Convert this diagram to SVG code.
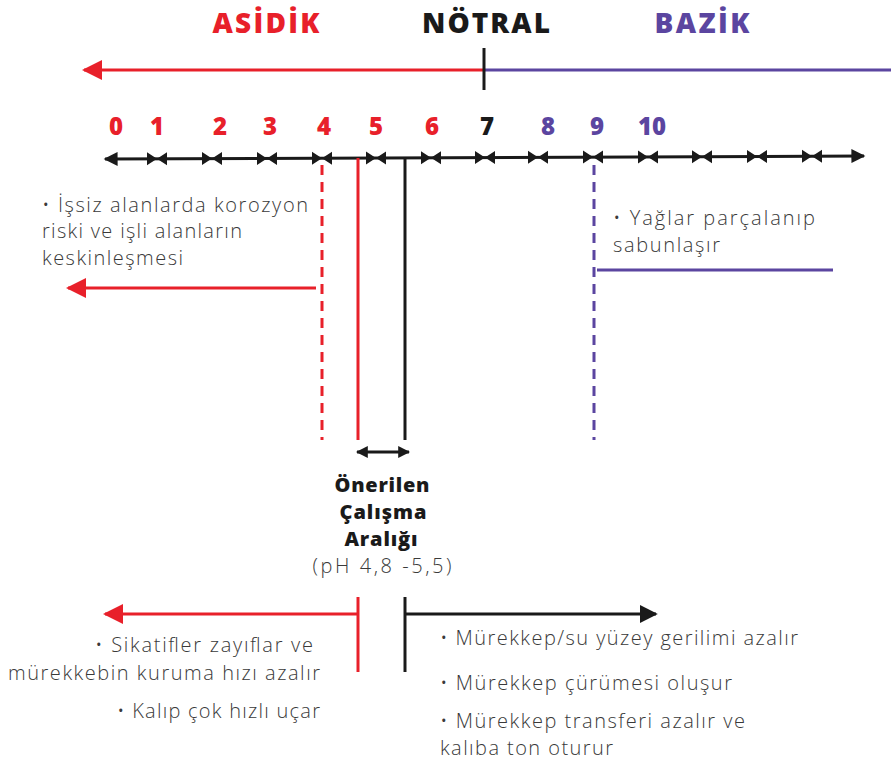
<svg xmlns="http://www.w3.org/2000/svg" width="891" height="764" viewBox="0 0 891 764">
<style>
.h{font-family:"Open Sans","Liberation Sans",sans-serif;font-weight:800;font-size:28px;text-anchor:middle}
.n{font-family:"Open Sans","Liberation Sans",sans-serif;font-weight:800;font-size:24px;text-anchor:middle}
.t{font-family:"Open Sans","Liberation Sans",sans-serif;font-weight:300;font-size:20px;fill:#3a3a3a}
.b{font-family:"Open Sans","Liberation Sans",sans-serif;font-weight:800;font-size:20px;fill:#1a1a1a;text-anchor:middle}
.red{fill:#e8202a}.pur{fill:#5b45a0}.blk{fill:#1a1a1a}
.lr{stroke:#e8202a;stroke-width:3;fill:none}
.lp{stroke:#5b45a0;stroke-width:3;fill:none}
.lk{stroke:#1a1a1a;stroke-width:3;fill:none}
.dr{stroke:#e8202a;stroke-width:3;stroke-dasharray:10 7;fill:none}
.dp{stroke:#5b45a0;stroke-width:3;stroke-dasharray:10 7;fill:none}
</style>
<defs>
<marker id="arL" viewBox="0 0 10 10" refX="9" refY="5" markerWidth="20" markerHeight="20" orient="auto-start-reverse" markerUnits="userSpaceOnUse"><path d="M0,0L10,5L0,10z" fill="#e8202a"/></marker>
<marker id="akL" viewBox="0 0 10 10" refX="9" refY="5" markerWidth="18" markerHeight="18" orient="auto-start-reverse" markerUnits="userSpaceOnUse"><path d="M0,0L10,5L0,10z" fill="#1a1a1a"/></marker>
<marker id="akM" viewBox="0 0 10 10" refX="9" refY="5" markerWidth="15" markerHeight="14" orient="auto-start-reverse" markerUnits="userSpaceOnUse"><path d="M0,0L10,5L0,10z" fill="#1a1a1a"/></marker>
<marker id="akS" viewBox="0 0 10 10" refX="9" refY="5" markerWidth="12" markerHeight="12" orient="auto-start-reverse" markerUnits="userSpaceOnUse"><path d="M0,0L10,5L0,10z" fill="#1a1a1a"/></marker>
<path id="bow" d="M-10,-6.5L0,0L-10,6.5zM10,-6.5L0,0L10,6.5z" fill="#1a1a1a"/>
</defs>

<g id="headers">
<text class="h red" x="266" y="33" textLength="107" lengthAdjust="spacing">ASİDİK</text>
<text class="h blk" x="486" y="33" textLength="128" lengthAdjust="spacing">NÖTRAL</text>
<text class="h pur" x="702" y="33" textLength="95" lengthAdjust="spacing">BAZİK</text>
</g>

<g id="scale-labels">
<text class="n red" x="116" y="135">0</text>
<text class="n red" x="157" y="135">1</text>
<text class="n red" x="220" y="135">2</text>
<text class="n red" x="270" y="135">3</text>
<text class="n red" x="324" y="135">4</text>
<text class="n red" x="376" y="135">5</text>
<text class="n red" x="432" y="135">6</text>
<text class="n blk" x="487" y="135">7</text>
<text class="n pur" x="548" y="135">8</text>
<text class="n pur" x="597" y="135">9</text>
<text class="n pur" x="652" y="135">10</text>
</g>

<g id="connectors">
<line class="lr" x1="484" y1="70" x2="84" y2="70" marker-end="url(#arL)"/>
<line class="lp" x1="484" y1="70" x2="891" y2="70"/>
<line class="lk" x1="484" y1="48" x2="484" y2="90"/>
<line class="lk" x1="105" y1="159" x2="864" y2="156" marker-start="url(#akM)" marker-end="url(#akM)"/>
<use href="#bow" x="157" y="158.8"/>
<use href="#bow" x="212" y="158.6"/>
<use href="#bow" x="267" y="158.4"/>
<use href="#bow" x="322" y="158.2"/>
<use href="#bow" x="376" y="158"/>
<use href="#bow" x="431" y="157.8"/>
<use href="#bow" x="485" y="157.5"/>
<use href="#bow" x="538" y="157.3"/>
<use href="#bow" x="593" y="157.1"/>
<use href="#bow" x="648" y="156.9"/>
<use href="#bow" x="702" y="156.7"/>
<use href="#bow" x="757" y="156.5"/>
<use href="#bow" x="812" y="156.3"/>
<line class="dr" x1="322" y1="165" x2="322" y2="440"/>
<line class="lr" x1="358" y1="158" x2="358" y2="440"/>
<line class="lk" x1="405" y1="158" x2="405" y2="440"/>
<line class="dp" x1="594" y1="165" x2="594" y2="440"/>
<line class="lr" x1="316" y1="288" x2="68" y2="288" marker-end="url(#arL)"/>
<line class="lp" x1="597" y1="270" x2="833" y2="270"/>
<line class="lk" x1="357" y1="452" x2="409" y2="452" stroke-width="2" marker-start="url(#akS)" marker-end="url(#akS)"/>
<line class="lr" x1="358" y1="597" x2="358" y2="672"/>
<line class="lr" x1="358" y1="614" x2="105" y2="614" marker-end="url(#arL)"/>
<line class="lk" x1="405" y1="597" x2="405" y2="672"/>
<line class="lk" x1="405" y1="614" x2="656" y2="614" marker-end="url(#akL)"/>
</g>

<g id="acid-note">
<text class="t" x="42" y="212" textLength="266" lengthAdjust="spacing">• İşsiz alanlarda korozyon</text>
<text class="t" x="42" y="238" textLength="200" lengthAdjust="spacing">riski ve işli alanların</text>
<text class="t" x="42" y="265" textLength="141" lengthAdjust="spacing">keskinleşmesi</text>
</g>

<g id="base-note">
<text class="t" x="613" y="225" textLength="202" lengthAdjust="spacing">• Yağlar parçalanıp</text>
<text class="t" x="613" y="252" textLength="107" lengthAdjust="spacing">sabunlaşır</text>
</g>

<g id="range">
<text class="b" x="382" y="492" textLength="95" lengthAdjust="spacing">Önerilen</text>
<text class="b" x="383" y="519" textLength="87" lengthAdjust="spacing">Çalışma</text>
<text class="b" x="381" y="546" textLength="73" lengthAdjust="spacing">Aralığı</text>
<text class="t" x="382" y="573" text-anchor="middle" textLength="139" lengthAdjust="spacing">(pH 4,8 -5,5)</text>
</g>

<g id="low-note">
<text class="t" x="95" y="652" textLength="218" lengthAdjust="spacing">• Sikatifler zayıflar ve</text>
<text class="t" x="8" y="680" textLength="312" lengthAdjust="spacing">mürekkebin kuruma hızı azalır</text>
<text class="t" x="117" y="718" textLength="203" lengthAdjust="spacing">• Kalıp çok hızlı uçar</text>
</g>

<g id="high-note">
<text class="t" x="440" y="645" textLength="358" lengthAdjust="spacing">• Mürekkep/su yüzey gerilimi azalır</text>
<text class="t" x="440" y="690" textLength="292" lengthAdjust="spacing">• Mürekkep çürümesi oluşur</text>
<text class="t" x="440" y="728" textLength="305" lengthAdjust="spacing">• Mürekkep transferi azalır ve</text>
<text class="t" x="440" y="755" textLength="173" lengthAdjust="spacing">kalıba ton oturur</text>
</g>
</svg>
